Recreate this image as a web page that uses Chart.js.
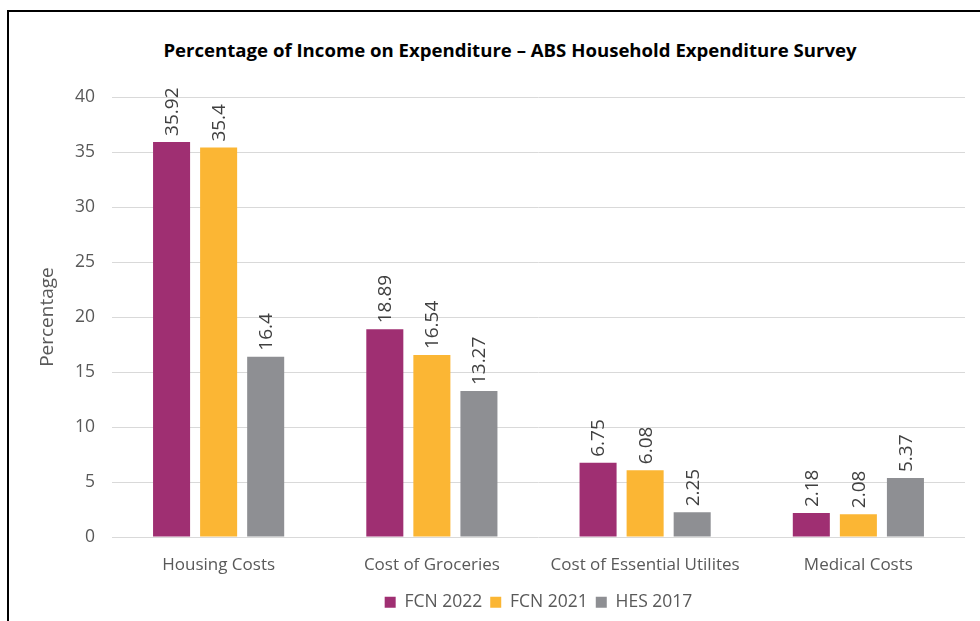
<!DOCTYPE html>
<html>
<head>
<meta charset="utf-8">
<script src="https://cdn.jsdelivr.net/npm/chart.js@4/dist/chart.umd.min.js"></script>
<style>
  html, body { margin: 0; padding: 0; background: #fff; }
  body { width: 980px; height: 621px; position: relative; overflow: hidden; }
  #frame {
    position: absolute; left: 7px; top: 10px; width: 990px; height: 640px;
    border-top: 2px solid #000; border-left: 2px solid #000;
  }
  #title {
    position: absolute; left: 0; width: 1020px; top: 37px; text-align: center;
    font-family: "Open Sans", sans-serif; font-weight: bold; font-size: 18.6px; color: #000;
  }
  #wrap { position: absolute; left: 0; top: 0; width: 980px; height: 621px; }
</style>
</head>
<body>
<div id="frame"></div>
<div id="title">Percentage of Income on Expenditure – ABS Household Expenditure Survey</div>
<div id="wrap"><canvas id="chart"></canvas></div>
<script>
const categories = ["Housing Costs", "Cost of Groceries", "Cost of Essential Utilites", "Medical Costs"];
const fcn2022 = [35.92, 18.89, 6.75, 2.18];
const fcn2021 = [35.4, 16.54, 6.08, 2.08];
const hes2017 = [16.4, 13.27, 2.25, 5.37];
const yTicks = [0, 5, 10, 15, 20, 25, 30, 35, 40];

const FONT = '"Open Sans", sans-serif';
const GREY_TEXT = "#595959";

// labels standing vertically on top of each bar
const barLabels = {
  id: "barLabels",
  afterDatasetsDraw(chart) {
    const ctx = chart.ctx;
    ctx.save();
    ctx.font = "19px " + FONT;
    ctx.fillStyle = "#404040";
    ctx.textAlign = "left";
    ctx.textBaseline = "middle";
    chart.data.datasets.forEach((ds, i) => {
      chart.getDatasetMeta(i).data.forEach((bar, j) => {
        ctx.save();
        ctx.translate(bar.x + 1, bar.y - 6);
        ctx.rotate(-Math.PI / 2);
        ctx.fillText(String(ds.data[j]), 0, 0);
        ctx.restore();
      });
    });
    ctx.restore();
  },
};

new Chart(document.getElementById("chart"), {
  type: "bar",
  data: {
    labels: categories,
    datasets: [
      { label: "FCN 2022", data: fcn2022, backgroundColor: "#9F2F72" },
      { label: "FCN 2021", data: fcn2021, backgroundColor: "#FBB634" },
      { label: "HES 2017", data: hes2017, backgroundColor: "#8E8F93" },
    ],
  },
  options: {
    responsive: true,
    maintainAspectRatio: false,
    animation: false,
    events: [],
    datasets: { bar: { categoryPercentage: 0.662, barPercentage: 0.787 } },
    layout: { padding: { left: 30, right: 15, top: 97, bottom: 0 } },
    plugins: {
      legend: {
        position: "bottom",
        fullSize: false,
        labels: {
          font: { family: FONT, size: 17.5 },
          color: GREY_TEXT,
          boxWidth: 11,
          boxHeight: 11,
          padding: 8,
        },
      },
      tooltip: { enabled: false },
    },
    scales: {
      x: {
        grid: { display: false },
        border: { display: false },
        ticks: { font: { family: FONT, size: 17 }, color: GREY_TEXT, padding: 10, maxRotation: 0 },
      },
      y: {
        min: 0,
        max: 40,
        afterBuildTicks: (s) => { s.ticks = yTicks.map((v) => ({ value: v })); },
        afterFit: (s) => { s.width = 82; },
        grid: { color: "#D9D9D9", lineWidth: 1, drawTicks: false },
        border: { display: false },
        ticks: { font: { family: FONT, size: 17.5 }, color: GREY_TEXT, padding: 17 },
        title: {
          display: true,
          text: "Percentage",
          font: { family: FONT, size: 19 },
          color: GREY_TEXT,
          padding: 6,
        },
      },
    },
  },
  plugins: [barLabels],
});
</script>
</body>
</html>
